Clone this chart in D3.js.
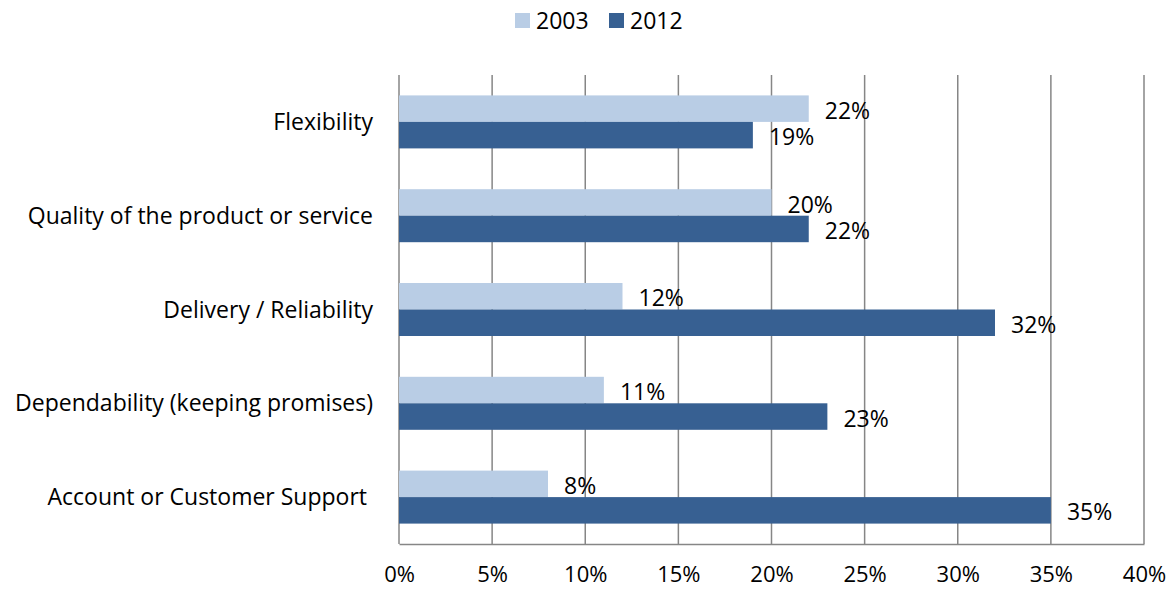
<!DOCTYPE html>
<html>
<head>
<meta charset="utf-8">
<script src="https://cdn.jsdelivr.net/npm/d3@7"></script>
<style>
  body { margin: 0; background: #fff; }
  svg text { font-family: "Open Sans", sans-serif; fill: #000; }
</style>
</head>
<body>
<div id="chart"></div>
<script>
const categories = ["Flexibility", "Quality of the product or service", "Delivery / Reliability", "Dependability (keeping promises)", "Account or Customer Support "]
const seriesNames = ["2003", "2012"]
const values2003 = [22, 20, 12, 11, 8]
const values2012 = [19, 22, 32, 23, 35]
const xTicks = [0, 5, 10, 15, 20, 25, 30, 35, 40]
const colors = ["#b9cde5", "#376092"]

const width = 1173, height = 590
const margin = { top: 75, right: 29, bottom: 46, left: 399 }
const fontSize = "23px"

const svg = d3.select("#chart").append("svg")
   .attr("width", width)
   .attr("height", height)

const x = d3.scaleLinear().domain([0, 40]).range([margin.left, width - margin.right])
const y = d3.scaleBand().domain(categories)
   .range([margin.top, height - margin.bottom])
   .paddingInner(0.435).paddingOuter(0.2175)
const ySub = d3.scaleBand().domain(seriesNames).range([0, y.bandwidth()])

// grid lines
svg.append("g")
   .selectAll("line")
   .data(xTicks)
   .join("line")
   .attr("x1", d => x(d)).attr("x2", d => x(d))
   .attr("y1", margin.top).attr("y2", height - margin.bottom)
   .attr("stroke", "#868686")
   .attr("stroke-width", 1.5)

// bottom axis
const xAxis = svg.append("g")
   .attr("transform", `translate(0,${height - margin.bottom})`)
   .call(d3.axisBottom(x).tickValues(xTicks).tickFormat(d => d + "%").tickSize(0).tickPadding(22))
xAxis.select(".domain").attr("stroke", "#868686").attr("stroke-width", 1.5)
xAxis.selectAll("text").style("font-size", "22px")

// category labels
svg.append("g")
   .selectAll("text")
   .data(categories)
   .join("text")
   .attr("x", margin.left - 26)
   .attr("y", d => y(d) + y.bandwidth() / 2)
   .attr("text-anchor", "end")
   .attr("dy", "0.35em")
   .style("font-size", fontSize)
   .style("white-space", "pre")
   .text(d => d)

const rows = categories.map((c, i) => ({ cat: c, vals: [values2003[i], values2012[i]] }))

const groups = svg.append("g")
   .selectAll("g")
   .data(rows)
   .join("g")
   .attr("transform", d => `translate(0,${y(d.cat)})`)

groups.selectAll("rect")
   .data(d => d.vals.map((v, k) => ({ key: seriesNames[k], v, k })))
   .join("rect")
   .attr("x", x(0))
   .attr("y", d => ySub(d.key))
   .attr("width", d => x(d.v) - x(0))
   .attr("height", ySub.bandwidth())
   .attr("fill", d => colors[d.k])

groups.selectAll("text.val")
   .data(d => d.vals.map((v, k) => ({ key: seriesNames[k], v, k })))
   .join("text")
   .attr("class", "val")
   .attr("x", d => x(d.v) + 16)
   .attr("y", d => ySub(d.key) + ySub.bandwidth() / 2 + 2)
   .attr("dy", "0.35em")
   .style("font-size", fontSize)
   .text(d => d.v + "%")

// legend
const legend = svg.append("g").attr("transform", "translate(515,13)")
const legendX = [0, 94]
seriesNames.forEach((s, i) => {
   legend.append("rect")
      .attr("x", legendX[i]).attr("y", 0)
      .attr("width", 15).attr("height", 15)
      .attr("fill", colors[i])
   legend.append("text")
      .attr("x", legendX[i] + 21).attr("y", 8)
      .attr("dy", "0.35em")
      .style("font-size", fontSize)
      .text(s)
})
</script>
</body>
</html>
